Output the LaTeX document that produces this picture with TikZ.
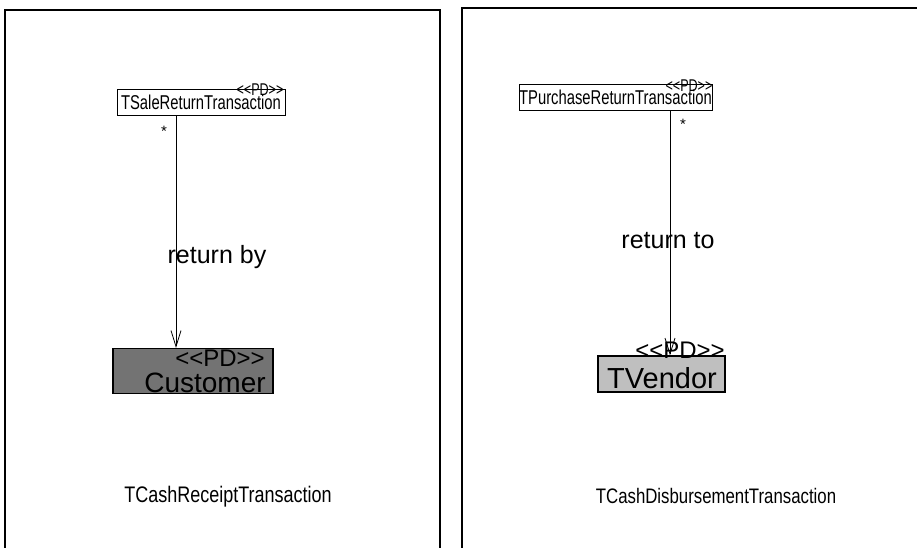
\documentclass[tikz,border=0pt]{standalone}
\usepackage{fontspec}
\setmainfont{Liberation Sans}
\newfontfamily\narrowsans[FakeStretch=0.8]{Liberation Sans}
\newfontfamily\classsans[FakeStretch=0.74]{Liberation Sans}
\usetikzlibrary{arrows.meta, positioning}

\begin{document}
\begin{tikzpicture}[x=1pt, y=-1pt,
    panel/.style={line width=1.2pt},
    classbox/.style={draw, line width=0.9pt, inner sep=0pt, font=\classsans\fontsize{20}{20}\selectfont},
    pdbox/.style={draw, line width=1.2pt, inner sep=0pt},
    stereo/.style={inner sep=0pt, font=\classsans\fontsize{17}{17}\selectfont},
    assoc/.style={line width=0.8pt, -{Straight Barb[length=16pt, width=10pt, line width=0.8pt]}},
    lbl/.style={inner sep=0pt, font=\fontsize{25}{25}\selectfont},
    title/.style={inner sep=0pt, font=\narrowsans\fontsize{22.5}{22.5}\selectfont}]
  \useasboundingbox (0,0) rectangle (917,548);

  % Panels
  \draw[panel] (5,548) -- (5,10) -- (440,10) -- (440,548);
  \draw[panel] (462,548) -- (462,8) -- (917,8);

  % TCashReceiptTransaction
  \node[classbox, minimum width=168pt, minimum height=26pt, text depth=0pt] (sale) at (201,102) {TSaleReturnTransaction};
  \node[stereo] (salept) at (260,90) {{<}{<}PD{>}{>}};
  \node[pdbox, fill=black!55, minimum width=160pt, minimum height=45pt] (cust) at (193,371) {};
  \node[stereo, font=\fontsize{24}{24}\selectfont] (custpt) at (220,358) {{<}{<}PD{>}{>}};
  \node[inner sep=0pt, font=\fontsize{28}{28}\selectfont] (custname) at (205,383) {Customer};
  \draw[assoc] (sale.south -| 176,0) -- (cust.north -| 176,0);
  \node[lbl, font=\fontsize{15}{15}\selectfont] (salestar) at (164,131) {*};
  \node[lbl] (saleby) at (217,257) {return by};
  \node[title] (receipt) at (228,497) {TCashReceiptTransaction};

  % TCashDisbursementTransaction
  \node[classbox, minimum width=193pt, minimum height=26pt, text depth=0pt] (purch) at (615.5,97) {TPurchaseReturnTransaction};
  \node[stereo] (purchpt) at (689,86) {{<}{<}PD{>}{>}};
  \node[pdbox, fill=black!25, minimum width=127pt, minimum height=36pt] (vend) at (661.5,374) {};
  \node[stereo, font=\fontsize{24}{24}\selectfont] (vendpt) at (680,350) {{<}{<}PD{>}{>}};
  \node[inner sep=0pt, font=\fontsize{29}{29}\selectfont] (vendname) at (662,378) {TVendor};
  \draw[assoc] (purch.south -| 670,0) -- (vend.north -| 670,0);
  \node[lbl, font=\fontsize{15}{15}\selectfont] (purchstar) at (683,124) {*};
  \node[lbl] (purchto) at (668,241) {return to};
  \node[title, font=\narrowsans\fontsize{21}{21}\selectfont] (disburse) at (716,496) {TCashDisbursementTransaction};
\end{tikzpicture}
\end{document}
